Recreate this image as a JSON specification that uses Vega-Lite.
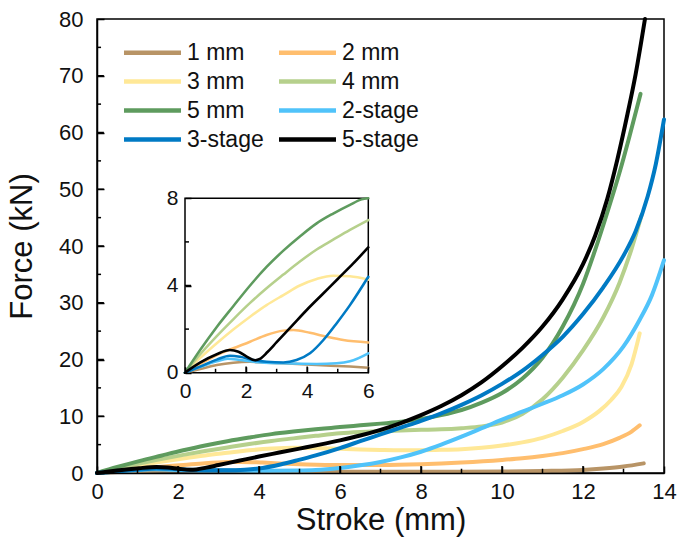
{
  "$schema": "https://vega.github.io/schema/vega-lite/v6.json",
  "width": 567,
  "height": 454,
  "autosize": "none",
  "padding": {"left": 97, "top": 19, "right": 14, "bottom": 85},
  "background": "white",
  "config": {
    "font": "Liberation Sans",
    "view": {"stroke": "#000", "strokeWidth": 1.5},
    "axis": {"labelFont": "Liberation Sans", "titleFont": "Liberation Sans", "labelColor": "#111", "titleColor": "#111", "titleFontWeight": "normal", "domainColor": "#000", "domainWidth": 1.5, "tickColor": "#000", "tickWidth": 1.5, "grid": false, "labelOverlap": false, "labelFlush": false}
  },
  "data": {"values": [
    {"s":"1 mm","x":0,"y":0},{"s":"1 mm","x":0.5,"y":0.17},{"s":"1 mm","x":1.04,"y":0.35},{"s":"1 mm","x":1.58,"y":0.46},{"s":"1 mm","x":2.13,"y":0.5},{"s":"1 mm","x":2.67,"y":0.46},{"s":"1 mm","x":3.22,"y":0.43},{"s":"1 mm","x":4.31,"y":0.35},{"s":"1 mm","x":5.4,"y":0.28},{"s":"1 mm","x":6,"y":0.23},{"s":"1 mm","x":7,"y":0.2},{"s":"1 mm","x":8,"y":0.2},{"s":"1 mm","x":9,"y":0.2},{"s":"1 mm","x":10,"y":0.25},{"s":"1 mm","x":11,"y":0.35},{"s":"1 mm","x":12,"y":0.55},{"s":"1 mm","x":12.5,"y":0.8},{"s":"1 mm","x":13,"y":1.15},{"s":"1 mm","x":13.5,"y":1.7},
    {"s":"2 mm","x":0,"y":0},{"s":"2 mm","x":0.5,"y":0.4},{"s":"2 mm","x":1.04,"y":0.81},{"s":"2 mm","x":1.58,"y":1.12},{"s":"2 mm","x":2.13,"y":1.42},{"s":"2 mm","x":2.67,"y":1.73},{"s":"2 mm","x":3.22,"y":1.93},{"s":"2 mm","x":3.55,"y":1.96},{"s":"2 mm","x":4.09,"y":1.83},{"s":"2 mm","x":4.64,"y":1.65},{"s":"2 mm","x":5.18,"y":1.5},{"s":"2 mm","x":6,"y":1.39},{"s":"2 mm","x":7,"y":1.4},{"s":"2 mm","x":8,"y":1.55},{"s":"2 mm","x":9,"y":1.85},{"s":"2 mm","x":10,"y":2.3},{"s":"2 mm","x":10.5,"y":2.6},{"s":"2 mm","x":11,"y":3.0},{"s":"2 mm","x":11.5,"y":3.5},{"s":"2 mm","x":12,"y":4.2},{"s":"2 mm","x":12.5,"y":5.1},{"s":"2 mm","x":12.9,"y":6.2},{"s":"2 mm","x":13.2,"y":7.3},{"s":"2 mm","x":13.4,"y":8.4},
    {"s":"3 mm","x":0,"y":0},{"s":"3 mm","x":0.5,"y":0.68},{"s":"3 mm","x":1.04,"y":1.35},{"s":"3 mm","x":1.58,"y":1.98},{"s":"3 mm","x":2.13,"y":2.57},{"s":"3 mm","x":2.67,"y":3.1},{"s":"3 mm","x":3.22,"y":3.56},{"s":"3 mm","x":3.76,"y":4.0},{"s":"3 mm","x":4.31,"y":4.3},{"s":"3 mm","x":4.85,"y":4.45},{"s":"3 mm","x":5.4,"y":4.42},{"s":"3 mm","x":6,"y":4.27},{"s":"3 mm","x":6.5,"y":4.15},{"s":"3 mm","x":7,"y":4.07},{"s":"3 mm","x":7.5,"y":4.02},{"s":"3 mm","x":8,"y":4.02},{"s":"3 mm","x":8.5,"y":4.08},{"s":"3 mm","x":9,"y":4.2},{"s":"3 mm","x":9.5,"y":4.45},{"s":"3 mm","x":10,"y":4.85},{"s":"3 mm","x":10.5,"y":5.4},{"s":"3 mm","x":11,"y":6.2},{"s":"3 mm","x":11.5,"y":7.4},{"s":"3 mm","x":12,"y":9.0},{"s":"3 mm","x":12.4,"y":10.9},{"s":"3 mm","x":12.7,"y":12.9},{"s":"3 mm","x":12.95,"y":15.2},{"s":"3 mm","x":13.2,"y":19.2},{"s":"3 mm","x":13.4,"y":24.6},
    {"s":"4 mm","x":0,"y":0},{"s":"4 mm","x":0.5,"y":0.85},{"s":"4 mm","x":1.04,"y":1.68},{"s":"4 mm","x":1.58,"y":2.45},{"s":"4 mm","x":2.13,"y":3.2},{"s":"4 mm","x":2.67,"y":3.87},{"s":"4 mm","x":3.22,"y":4.5},{"s":"4 mm","x":3.76,"y":5.1},{"s":"4 mm","x":4.31,"y":5.65},{"s":"4 mm","x":4.85,"y":6.1},{"s":"4 mm","x":5.4,"y":6.55},{"s":"4 mm","x":6,"y":7.0},{"s":"4 mm","x":6.5,"y":7.22},{"s":"4 mm","x":7,"y":7.37},{"s":"4 mm","x":7.5,"y":7.5},{"s":"4 mm","x":8,"y":7.6},{"s":"4 mm","x":8.5,"y":7.7},{"s":"4 mm","x":9,"y":7.9},{"s":"4 mm","x":9.5,"y":8.2},{"s":"4 mm","x":10,"y":8.9},{"s":"4 mm","x":10.5,"y":10.4},{"s":"4 mm","x":11,"y":13.0},{"s":"4 mm","x":11.5,"y":16.8},{"s":"4 mm","x":12,"y":21.6},{"s":"4 mm","x":12.5,"y":27.4},{"s":"4 mm","x":12.9,"y":33.5},{"s":"4 mm","x":13.2,"y":39.5},{"s":"4 mm","x":13.45,"y":45.5},
    {"s":"5 mm","x":0,"y":0},{"s":"5 mm","x":0.5,"y":1.05},{"s":"5 mm","x":1.04,"y":2.1},{"s":"5 mm","x":1.58,"y":3.05},{"s":"5 mm","x":2.13,"y":4.0},{"s":"5 mm","x":2.67,"y":4.85},{"s":"5 mm","x":3.22,"y":5.6},{"s":"5 mm","x":3.76,"y":6.25},{"s":"5 mm","x":4.31,"y":6.85},{"s":"5 mm","x":4.85,"y":7.3},{"s":"5 mm","x":5.4,"y":7.7},{"s":"5 mm","x":5.78,"y":7.95},{"s":"5 mm","x":6,"y":8.1},{"s":"5 mm","x":6.5,"y":8.4},{"s":"5 mm","x":7,"y":8.7},{"s":"5 mm","x":7.5,"y":9.05},{"s":"5 mm","x":8,"y":9.5},{"s":"5 mm","x":8.5,"y":10.2},{"s":"5 mm","x":9,"y":11.1},{"s":"5 mm","x":9.5,"y":12.4},{"s":"5 mm","x":10,"y":14.1},{"s":"5 mm","x":10.5,"y":16.6},{"s":"5 mm","x":11,"y":20.3},{"s":"5 mm","x":11.5,"y":25.8},{"s":"5 mm","x":12,"y":33.3},{"s":"5 mm","x":12.3,"y":39.3},{"s":"5 mm","x":12.6,"y":45.9},{"s":"5 mm","x":12.9,"y":52.9},{"s":"5 mm","x":13.15,"y":59.4},{"s":"5 mm","x":13.42,"y":66.8},
    {"s":"2-stage","x":0,"y":0},{"s":"2-stage","x":0.49,"y":0.26},{"s":"2-stage","x":1.04,"y":0.52},{"s":"2-stage","x":1.4,"y":0.64},{"s":"2-stage","x":1.8,"y":0.58},{"s":"2-stage","x":2.24,"y":0.5},{"s":"2-stage","x":3.22,"y":0.43},{"s":"2-stage","x":4.31,"y":0.4},{"s":"2-stage","x":4.96,"y":0.43},{"s":"2-stage","x":5.4,"y":0.52},{"s":"2-stage","x":6,"y":0.89},{"s":"2-stage","x":6.5,"y":1.35},{"s":"2-stage","x":7,"y":1.95},{"s":"2-stage","x":7.5,"y":2.75},{"s":"2-stage","x":8,"y":3.75},{"s":"2-stage","x":8.5,"y":5.0},{"s":"2-stage","x":9,"y":6.4},{"s":"2-stage","x":9.5,"y":7.9},{"s":"2-stage","x":10,"y":9.4},{"s":"2-stage","x":10.5,"y":10.8},{"s":"2-stage","x":11,"y":12.2},{"s":"2-stage","x":11.5,"y":13.7},{"s":"2-stage","x":12,"y":15.6},{"s":"2-stage","x":12.5,"y":18.3},{"s":"2-stage","x":13,"y":22.3},{"s":"2-stage","x":13.4,"y":27.0},{"s":"2-stage","x":13.7,"y":31.3},{"s":"2-stage","x":14,"y":37.5},
    {"s":"3-stage","x":0,"y":0},{"s":"3-stage","x":0.49,"y":0.28},{"s":"3-stage","x":1.04,"y":0.6},{"s":"3-stage","x":1.47,"y":0.78},{"s":"3-stage","x":1.8,"y":0.73},{"s":"3-stage","x":2.24,"y":0.58},{"s":"3-stage","x":2.67,"y":0.5},{"s":"3-stage","x":3.22,"y":0.47},{"s":"3-stage","x":3.65,"y":0.58},{"s":"3-stage","x":4.09,"y":0.89},{"s":"3-stage","x":4.53,"y":1.5},{"s":"3-stage","x":4.96,"y":2.26},{"s":"3-stage","x":5.4,"y":3.1},{"s":"3-stage","x":6,"y":4.4},{"s":"3-stage","x":6.5,"y":5.6},{"s":"3-stage","x":7,"y":6.8},{"s":"3-stage","x":7.5,"y":8.0},{"s":"3-stage","x":8,"y":9.2},{"s":"3-stage","x":8.5,"y":10.5},{"s":"3-stage","x":9,"y":12.0},{"s":"3-stage","x":9.5,"y":13.7},{"s":"3-stage","x":10,"y":15.7},{"s":"3-stage","x":10.5,"y":18.0},{"s":"3-stage","x":11,"y":20.8},{"s":"3-stage","x":11.5,"y":24.0},{"s":"3-stage","x":12,"y":28.0},{"s":"3-stage","x":12.5,"y":32.7},{"s":"3-stage","x":13,"y":38.3},{"s":"3-stage","x":13.3,"y":42.6},{"s":"3-stage","x":13.6,"y":48.8},{"s":"3-stage","x":13.8,"y":54.5},{"s":"3-stage","x":14,"y":62.3},
    {"s":"5-stage","x":0,"y":0},{"s":"5-stage","x":0.49,"y":0.46},{"s":"5-stage","x":1.04,"y":0.85},{"s":"5-stage","x":1.47,"y":1.04},{"s":"5-stage","x":1.75,"y":0.96},{"s":"5-stage","x":2.02,"y":0.74},{"s":"5-stage","x":2.3,"y":0.57},{"s":"5-stage","x":2.45,"y":0.63},{"s":"5-stage","x":2.7,"y":0.95},{"s":"5-stage","x":3.0,"y":1.4},{"s":"5-stage","x":3.5,"y":2.15},{"s":"5-stage","x":4.0,"y":2.9},{"s":"5-stage","x":4.5,"y":3.6},{"s":"5-stage","x":5.0,"y":4.3},{"s":"5-stage","x":5.5,"y":5.0},{"s":"5-stage","x":6,"y":5.75},{"s":"5-stage","x":6.5,"y":6.6},{"s":"5-stage","x":7,"y":7.6},{"s":"5-stage","x":7.5,"y":8.8},{"s":"5-stage","x":8,"y":10.2},{"s":"5-stage","x":8.5,"y":11.8},{"s":"5-stage","x":9,"y":13.7},{"s":"5-stage","x":9.5,"y":16.0},{"s":"5-stage","x":10,"y":18.8},{"s":"5-stage","x":10.5,"y":22.0},{"s":"5-stage","x":11,"y":25.8},{"s":"5-stage","x":11.5,"y":30.6},{"s":"5-stage","x":12,"y":36.8},{"s":"5-stage","x":12.3,"y":41.8},{"s":"5-stage","x":12.6,"y":48.3},{"s":"5-stage","x":12.85,"y":55.3},{"s":"5-stage","x":13.1,"y":63.3},{"s":"5-stage","x":13.3,"y":70.3},{"s":"5-stage","x":13.53,"y":80}
  ]},
  "layer": [
    {
      "layer": [
        {
          "mark": {"type": "line", "interpolate": "monotone", "strokeCap": "round", "strokeJoin": "round"},
          "encoding": {
            "x": {"field": "x", "type": "quantitative", "scale": {"domain": [0, 14], "nice": false},
              "axis": {"orient": "bottom", "values": [0,2,4,6,8,10,12,14], "tickSize": -7, "zindex": 2,
                "labelPadding": 15, "labelFontSize": 22, "title": "Stroke (mm)", "titleFontSize": 31, "titlePadding": 3}},
            "y": {"field": "y", "type": "quantitative", "scale": {"domain": [0, 80], "nice": false},
              "axis": {"orient": "left", "values": [0,10,20,30,40,50,60,70,80], "tickSize": -7, "zindex": 2,
                "labelPadding": 21, "labelFontSize": 22, "title": "Force (kN)", "titleFontSize": 31, "titlePadding": 20}},
            "color": {"field": "s", "type": "nominal",
              "scale": {"domain": ["1 mm","2 mm","3 mm","4 mm","5 mm","2-stage","3-stage","5-stage"], "range": ["#B89466","#FFBE6E","#FFE897","#B6D08C","#5E9B5E","#50C3FA","#007AC4","#000000"]},
              "legend": {"orient": "none", "direction": "horizontal", "legendX": 39, "legendY": 17, "columns": 2, "title": null, "padding": 0,
                "symbolType": "M-2,0H2", "symbolSize": 812, "symbolStrokeWidth": 4.5, "labelFontSize": 23, "labelFont": "Liberation Sans", "labelColor": "#111",
                "labelOffset": 18, "rowPadding": -3, "columnPadding": 6}},
            "strokeWidth": {"field": "s", "type": "nominal",
              "scale": {"domain": ["1 mm","2 mm","3 mm","4 mm","5 mm","2-stage","3-stage","5-stage"], "range": [4,4,4,4,4.2,4.6,5.2,5.2]}, "legend": null}
          }
        },
        {
          "data": {"values": [{"t":2},{"t":4},{"t":6},{"t":8},{"t":10},{"t":12}]},
          "mark": {"type": "rule", "color": "#000", "strokeWidth": 1.5},
          "encoding": {"x": {"field": "t", "type": "quantitative", "axis": null}, "y": {"datum": 0, "type": "quantitative", "axis": null}, "y2": {"datum": 1.25}}
        },
        {
          "data": {"values": [{"t":1},{"t":3},{"t":5},{"t":7},{"t":9},{"t":11},{"t":13}]},
          "mark": {"type": "rule", "color": "#000", "strokeWidth": 1.5},
          "encoding": {"x": {"field": "t", "type": "quantitative", "axis": null}, "y": {"datum": 0, "type": "quantitative", "axis": null}, "y2": {"datum": 0.75}}
        },
        {
          "data": {"values": [{"t":10},{"t":20},{"t":30},{"t":40},{"t":50},{"t":60},{"t":70}]},
          "mark": {"type": "rule", "color": "#000", "strokeWidth": 1.5},
          "encoding": {"y": {"field": "t", "type": "quantitative", "axis": null}, "x": {"datum": 0, "type": "quantitative", "axis": null}, "x2": {"datum": 0.17}}
        },
        {
          "data": {"values": [{"t":5},{"t":15},{"t":25},{"t":35},{"t":45},{"t":55},{"t":65},{"t":75}]},
          "mark": {"type": "rule", "color": "#000", "strokeWidth": 1.5},
          "encoding": {"y": {"field": "t", "type": "quantitative", "axis": null}, "x": {"datum": 0, "type": "quantitative", "axis": null}, "x2": {"datum": 0.1}}
        }
      ],
      "resolve": {"axis": {"x": "independent", "y": "independent"}}
    },
    {
      "layer": [
        {
          "data": {"values": [{"x0": 0, "x1": 6, "y0": 0, "y1": 8}]},
          "mark": {"type": "rect", "fill": "white", "stroke": "#000", "strokeWidth": 1.5},
          "encoding": {
            "x": {"field": "x0", "type": "quantitative", "scale": {"domain": [0, 6], "range": [88, 271.3], "nice": false},
              "axis": {"orient": "bottom", "offset": -100.3, "domain": false, "tickSize": -6, "zindex": 2, "values": [0,2,4,6], "format": "d",
                "labelPadding": 14, "labelFontSize": 21, "title": null}},
            "x2": {"field": "x1"},
            "y": {"field": "y0", "type": "quantitative", "scale": {"domain": [0, 8], "range": [353.7, 179.3], "nice": false, "clamp": true},
              "axis": {"orient": "left", "offset": -88, "domain": false, "tickSize": -6, "zindex": 2, "values": [0,4,8], "format": "d",
                "labelPadding": 13, "labelFontSize": 21, "title": null}},
            "y2": {"field": "y1"}
          }
        },
        {
          "transform": [{"filter": "datum.x <= 6.001"}],
          "mark": {"type": "line", "interpolate": "monotone", "strokeCap": "round", "strokeJoin": "round"},
          "encoding": {
            "x": {"field": "x", "type": "quantitative", "axis": null},
            "y": {"field": "y", "type": "quantitative", "axis": null},
            "color": {"field": "s", "type": "nominal", "legend": null},
            "strokeWidth": {"field": "s", "type": "nominal",
              "scale": {"domain": ["1 mm","2 mm","3 mm","4 mm","5 mm","2-stage","3-stage","5-stage"], "range": [2.5,2.6,2.5,2.4,2.4,3.2,3.6,3.8]}, "legend": null}
          }
        },
        {
          "data": {"values": [{"t":2},{"t":4}]},
          "mark": {"type": "rule", "color": "#000", "strokeWidth": 1.5},
          "encoding": {"x": {"field": "t", "type": "quantitative", "axis": null}, "y": {"datum": 0, "type": "quantitative", "axis": null}, "y2": {"datum": 0.28}}
        },
        {
          "data": {"values": [{"t":1},{"t":3},{"t":5}]},
          "mark": {"type": "rule", "color": "#000", "strokeWidth": 1.5},
          "encoding": {"x": {"field": "t", "type": "quantitative", "axis": null}, "y": {"datum": 0, "type": "quantitative", "axis": null}, "y2": {"datum": 0.18}}
        },
        {
          "data": {"values": [{"t":4}]},
          "mark": {"type": "rule", "color": "#000", "strokeWidth": 1.5},
          "encoding": {"y": {"field": "t", "type": "quantitative", "axis": null}, "x": {"datum": 0, "type": "quantitative", "axis": null}, "x2": {"datum": 0.2}}
        },
        {
          "data": {"values": [{"t":2},{"t":6}]},
          "mark": {"type": "rule", "color": "#000", "strokeWidth": 1.5},
          "encoding": {"y": {"field": "t", "type": "quantitative", "axis": null}, "x": {"datum": 0, "type": "quantitative", "axis": null}, "x2": {"datum": 0.13}}
        }
      ],
      "resolve": {"axis": {"x": "independent", "y": "independent"}}
    }
  ],
  "resolve": {"scale": {"x": "independent", "y": "independent", "strokeWidth": "independent"}, "axis": {"x": "independent", "y": "independent"}}
}
